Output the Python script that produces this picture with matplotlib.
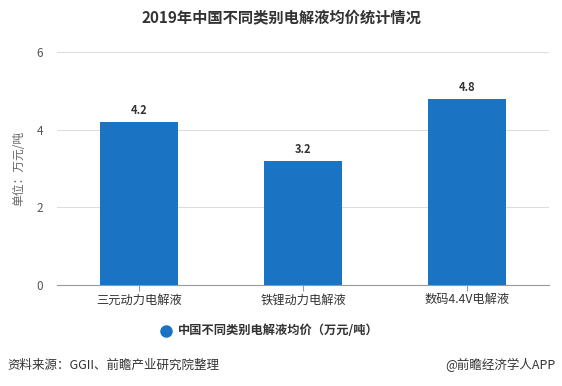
import matplotlib
matplotlib.use("Agg")
import matplotlib.pyplot as plt

plt.rcParams['font.family'] = ['Noto Sans CJK SC', 'DejaVu Sans']

categories = ["三元动力电解液", "铁锂动力电解液", "数码4.4V电解液"]
values = [4.2, 3.2, 4.8]
yticks = [0, 2, 4, 6]
series_name = "中国不同类别电解液均价（万元/吨）"
title = "2019年中国不同类别电解液均价统计情况"

bar_color = "#1a73c3"

fig = plt.figure(figsize=(5.62, 3.86), dpi=100)
ax = fig.add_axes([57/562, 1-285/386, (549-57)/562, (285-52)/386])

x = list(range(len(categories)))
ax.bar(x, values, width=0.475, color=bar_color, zorder=3)
for xi, v in zip(x, values):
    ax.text(xi, v + 0.12, f"{v}", ha="center", va="bottom", fontsize=8,
            fontweight="bold", color="#333333")

ax.set_xlim(-0.5, 2.5)
ax.set_ylim(0, 6)
ax.set_yticks(yticks)
ax.set_yticklabels([str(t) for t in yticks])
ax.set_xticks(x)
ax.set_xticklabels(categories)
ax.grid(axis="y", color="#dddddd", linewidth=0.8, zorder=0)
for s in ["top", "right", "left"]:
    ax.spines[s].set_visible(False)
ax.spines["bottom"].set_color("#999999")
ax.spines["bottom"].set_linewidth(0.8)
ax.tick_params(axis="y", length=0, labelsize=8.5, labelcolor="#555555", pad=10)
ax.tick_params(axis="x", length=4, color="#999999", labelsize=8.8, labelcolor="#333333", pad=2)
ax.set_ylabel("单位：万元/吨", fontsize=8.5, color="#666666", labelpad=8)

fig.text(0.5, 1-18/386, title, ha="center", va="center", fontsize=11,
         fontweight="bold", color="#333333")

# legend
fig.lines.append(plt.Line2D([166/562], [1-331/386], marker="o", markersize=8,
                            color=bar_color, transform=fig.transFigure, linestyle="none"))
fig.text(178/562, 1-331/386, series_name, ha="left", va="center", fontsize=8.8,
         fontweight="bold", color="#333333")

fig.text(7/562, 1-365/386, "资料来源：GGII、前瞻产业研究院整理", ha="left", va="center",
         fontsize=9, color="#333333")
fig.text(556/562, 1-365/386, "@前瞻经济学人APP", ha="right", va="center",
         fontsize=9, color="#333333")

fig.savefig("out.png", dpi=100)
